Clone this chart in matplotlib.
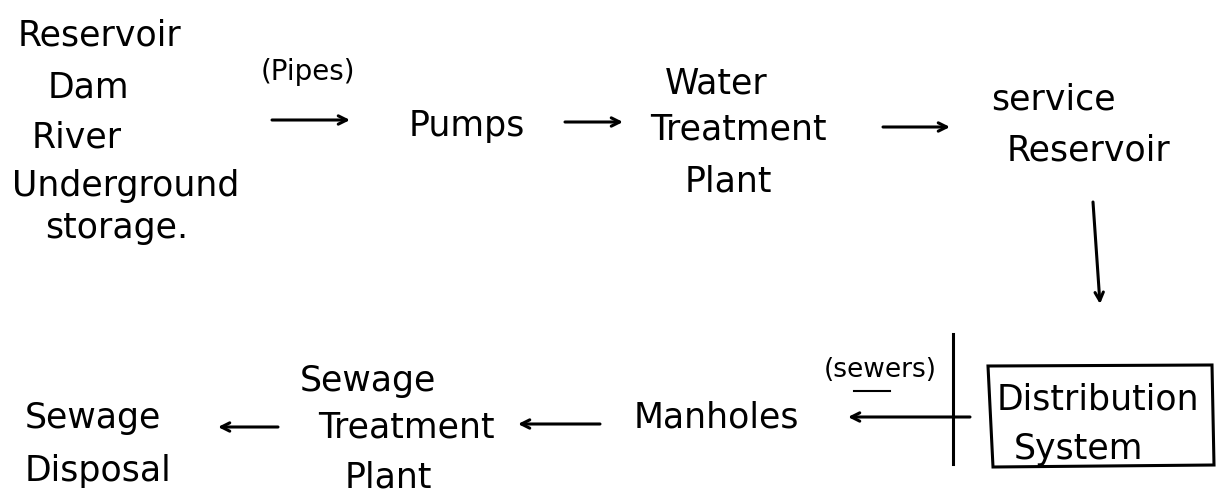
import matplotlib
matplotlib.use("Agg")
import matplotlib.pyplot as plt
from matplotlib.patches import Polygon

# ---- content ----
source_labels = ["Reservoir", "Dam", "River", "Underground", "storage."]
pipe_label = "(Pipes)"
sewer_label = "(sewers)"
node_labels = ["Pumps", "Water\nTreatment\nPlant", "service\nReservoir",
               "Distribution\nSystem", "Manholes", "Sewage\nTreatment\nPlant",
               "Sewage\nDisposal"]

# ---- layout (pixel coordinates, origin top-left) ----
W, H = 1220, 502
fig = plt.figure(figsize=(W / 100, H / 100), dpi=100)
ax = fig.add_axes([0, 0, 1, 1])
ax.set_xlim(0, W)
ax.set_ylim(H, 0)
ax.axis("off")

FONT = "DejaVu Sans"
FS = 25
LW = 2.2

def txt(x, y, s, ha="center", fs=FS):
    ax.text(x, y, s, ha=ha, va="center", fontsize=fs, family=FONT, color="black")

def multi(xs, ys, label, ha="center", fs=FS):
    for x, y, line in zip(xs, ys, label.split("\n")):
        txt(x, y, line, ha=ha, fs=fs)

def arrow(x0, y0, x1, y1):
    ax.annotate("", xy=(x1, y1), xytext=(x0, y0),
                arrowprops=dict(arrowstyle="->,head_length=0.6,head_width=0.3",
                                lw=LW, color="black", shrinkA=0, shrinkB=0))

# sources
src_pos = [(18, 35), (48, 88), (32, 138), (12, 186), (45, 228)]
for (x, y), s in zip(src_pos, source_labels):
    txt(x, y, s, ha="left")

# pipes label and arrow
txt(308, 72, pipe_label, fs=20)
arrow(272, 121, 350, 121)

# top row
txt(467, 126, node_labels[0])
arrow(565, 123, 623, 123)
multi([716, 738, 728], [83, 130, 182], node_labels[1])
arrow(883, 128, 950, 128)
multi([1053, 1088], [100, 151], node_labels[2])

# down arrow to distribution
arrow(1093, 203, 1100, 305)

# distribution box (hand-drawn quadrilateral)
ax.add_patch(Polygon([(988, 367), (1212, 366), (1214, 466), (993, 468)],
                     closed=True, fill=False, lw=LW, ec="black"))
multi([1098, 1079], [400, 449], node_labels[3])

# sewer line and arrow
ax.plot([953, 953], [335, 465], color="black", lw=LW)
arrow(970, 418, 848, 418)
txt(880, 370, sewer_label, fs=19)
ax.plot([854, 890], [392, 392], color="black", lw=1.5)

# bottom row
txt(716, 418, node_labels[4])
arrow(600, 425, 518, 425)
multi([368, 406, 388], [381, 428, 478], node_labels[5])
arrow(278, 428, 218, 428)
multi([25, 25], [418, 471], node_labels[6], ha="left")

fig.savefig("out.png", dpi=100, facecolor="white")
